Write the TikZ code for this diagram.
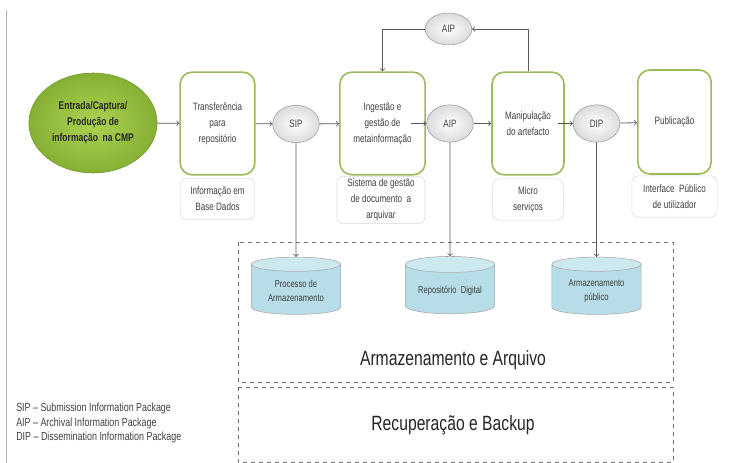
\documentclass[tikz,border=0pt]{standalone}
\usepackage{fontspec}
\setmainfont{Liberation Sans}
\newfontfamily\narrowfont[FakeStretch=0.76]{Liberation Sans}
\usetikzlibrary{shapes.geometric}

\definecolor{verdeborda}{RGB}{155,187,89}
\definecolor{verdeclaro}{RGB}{172,210,80}
\definecolor{verdeescuro}{RGB}{134,176,52}
\definecolor{verdelinha}{RGB}{110,150,40}
\definecolor{azulcil}{RGB}{183,221,232}
\definecolor{azultopo}{RGB}{205,233,240}
\definecolor{textocinza}{RGB}{64,64,64}

\tikzset{
  passo/.style={draw=verdeborda, line width=1.2pt, rounded corners=9pt, fill=white,
    minimum width=56pt, minimum height=77pt, align=center, text=textocinza,
    font=\narrowfont\fontsize{8}{12}\selectfont},
  legenda/.style={draw=black!15, rounded corners=5pt, fill=white, minimum width=56pt,
    minimum height=31pt, align=center, text=textocinza, inner sep=2pt,
    font=\narrowfont\fontsize{8}{12}\selectfont},
  pacote/.style={ellipse, draw=black!40, inner color=white, outer color=black!14,
    minimum width=35pt, minimum height=28pt, inner sep=0pt, text=textocinza,
    font=\narrowfont\fontsize{8}{10}\selectfont},
  deposito/.style={cylinder, shape border rotate=90, aspect=0.22, draw=black!35,
    cylinder uses custom fill, cylinder body fill=azulcil, cylinder end fill=azultopo,
    minimum width=67pt, minimum height=43pt, align=center, text=textocinza,
    font=\narrowfont\fontsize{7.5}{11}\selectfont},
  seta/.style={->, draw=black!65, line width=0.6pt},
  caixa/.style={draw=black!55, dashed, line width=0.7pt},
}

\begin{document}
\begin{tikzpicture}[x=0.75pt,y=0.75pt,yscale=-1,xscale=1]
\useasboundingbox (0,0) rectangle (756,463);

%margem esquerda
\draw [black!30, line width=0.6pt] (6,10) -- (6,463);

%Entrada
\node [ellipse, draw=verdelinha, inner color=verdeclaro, outer color=verdeescuro,
  minimum width=81pt, minimum height=75pt, align=center, text=black!85,
  font=\narrowfont\bfseries\fontsize{8.4}{12}\selectfont] (entrada) at (93,123)
  {Entrada/Captura/\\Produção de\\informação~~na CMP};

%Passos do fluxo
\node [passo] (transf) at (217.5,123.5) {Transferência\\para\\repositório};
\node [legenda] (infbd) at (217.5,199) {Informação em\\Base Dados};

\node [pacote] (sip) at (296,124) {SIP};

\node [passo, minimum width=64pt] (ingest) at (382.5,123.5) {Ingestão e\\gestão de\\metainformação};
\node [legenda, minimum width=66pt, minimum height=33pt] (sgd) at (381,200) {Sistema de gestão\\de documento~~a\\arquivar};

\node [pacote] (aipm) at (450,123.5) {AIP};

\node [passo, minimum width=54pt] (manip) at (528,123.5) {Manipulação\\do artefacto};
\node [legenda, minimum width=53pt] (micro) at (528,199.5) {Micro\\serviços};

\node [pacote] (dip) at (596.5,123.5) {DIP};

\node [passo, minimum width=55pt, minimum height=78pt] (publ) at (674.5,122) {Publicação};
\node [legenda, minimum width=64pt] (interf) at (674.5,196.5) {Interface~~Público\\de utilizador};

%AIP de retorno
\node [pacote, minimum height=24pt] (aipt) at (448.5,29) {AIP};

%Armazenamento
\draw [caixa] (238,242) rectangle (673,382);
\draw [caixa] (238,387) rectangle (673,462);
\node [deposito] (procarm) at (296,291) {Processo de\\Armazenamento};
\node [deposito] (repdig) at (450,291) {Repositório~~Digital};
\node [deposito] (armpub) at (596.5,291) {Armazenamento\\público};
\node [text=black!85, font=\narrowfont\fontsize{15.5}{18}\selectfont] (armarq) at (453,360) {Armazenamento e Arquivo};
\node [text=black!85, font=\narrowfont\fontsize{15.5}{18}\selectfont] (recback) at (453,425) {Recuperação e Backup};

%Siglas
\node [anchor=west, align=left, inner sep=0pt, text=textocinza,
  font=\narrowfont\fontsize{8.8}{11}\selectfont] (siglas) at (16,423)
  {SIP – Submission Information Package\\AIP – Archival Information Package\\DIP – Dissemination Information Package};

%Ligacoes
\draw [seta] (entrada) -- (transf);
\draw [seta] (transf) -- (sip);
\draw [seta] (sip) -- (ingest);
\draw [seta] ([xshift=-11pt]ingest.east) -- (aipm);
\draw [seta] (aipm) -- (manip);
\draw [seta] ([xshift=-5pt]manip.east) -- (dip);
\draw [seta] (dip) -- (publ);
\draw [seta] (manip.north) |- (aipt.east);
\draw [seta] (aipt.west) -| (ingest.north);
\draw [seta] (sip) -- (procarm);
\draw [seta] (aipm) -- (repdig);
\draw [seta] (dip) -- (armpub);

\end{tikzpicture}
\end{document}
